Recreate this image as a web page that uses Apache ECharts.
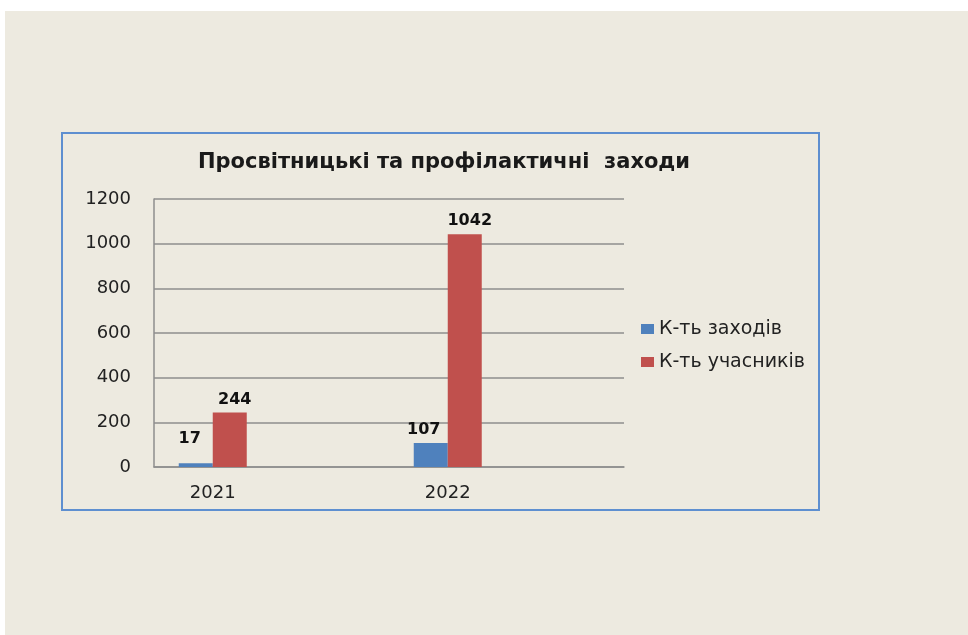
<!DOCTYPE html>
<html>
<head>
<meta charset="utf-8">
<script src="https://cdn.jsdelivr.net/npm/echarts@6/dist/echarts.min.js"></script>
<style>
  html, body { margin: 0; padding: 0; background: #ffffff; }
  #main { position: absolute; left: 5px; top: 11px; width: 963px; height: 624px; }
</style>
</head>
<body>
<div id="main"></div>
<script>
// категорії (порожні рядки як у вихідній таблиці)
const categories = ["2021", "", "2022", ""];
const seriesNames = ["К-ть заходів", "К-ть учасників"];
const eventsCount = [17, null, 107, null];
const participantsCount = [244, null, 1042, null];
const yTicks = [0, 200, 400, 600, 800, 1000, 1200];

const font = "DejaVu Sans";
const gridColor = "#8e8e8e";

const myChart = echarts.init(document.getElementById("main"));

// підпис "17" у оригіналі трохи вище
const blueData = eventsCount.map((v, i) => {
  if (i === 0) return { value: v, label: { offset: [-6, -11] } };
  return v;
});

myChart.setOption({
  backgroundColor: "#edeae0",
  animation: false,
  title: {
    text: "Просвітницькі та профілактичні  заходи",
    left: 434,
    top: 136,
    textAlign: "center",
    textStyle: {
      fontFamily: font,
      fontSize: 21,
      fontWeight: "bold",
      color: "#1a1a1a",
    },
  },
  legend: {
    data: seriesNames,
    orient: "vertical",
    left: 631,
    top: 303,
    itemWidth: 13,
    itemHeight: 10,
    itemGap: 13,
    icon: "rect",
    textStyle: {
      fontFamily: font,
      fontSize: 19,
      lineHeight: 20,
      color: "#222",
    },
  },
  grid: {
    left: 149,
    right: 344,
    top: 188,
    bottom: 168,
  },
  xAxis: {
    type: "category",
    data: categories,
    axisTick: { show: false },
    axisLine: { lineStyle: { color: gridColor, width: 1.5 } },
    axisLabel: {
      interval: 0,
      margin: 17,
      fontFamily: font,
      fontSize: 18,
      color: "#222",
    },
  },
  yAxis: {
    type: "value",
    min: yTicks[0],
    max: yTicks[yTicks.length - 1],
    interval: 200,
    axisTick: { show: false },
    axisLine: { show: true, lineStyle: { color: gridColor, width: 1.5 } },
    splitLine: { lineStyle: { color: gridColor, width: 1.5 } },
    axisLabel: {
      margin: 23,
      formatter: function (value) {
        return String(value);
      },
      fontFamily: font,
      fontSize: 18,
      color: "#222",
    },
  },
  series: [
    {
      name: seriesNames[0],
      type: "bar",
      barWidth: 34,
      barGap: "0%",
      data: blueData,
      itemStyle: { color: "#4f81bd" },
      label: {
        show: true,
        position: "top",
        distance: 5,
        offset: [-7, 0],
        fontFamily: font,
        fontSize: 16,
        fontWeight: "bold",
        color: "#111",
      },
    },
    {
      name: seriesNames[1],
      type: "bar",
      barWidth: 34,
      data: participantsCount,
      itemStyle: { color: "#c0504d" },
      label: {
        show: true,
        position: "top",
        distance: 5,
        offset: [5, 0],
        fontFamily: font,
        fontSize: 16,
        fontWeight: "bold",
        color: "#111",
      },
    },
  ],
  graphic: [
    {
      // синя рамка діаграми
      type: "rect",
      shape: { x: 57, y: 122, width: 757, height: 377 },
      style: { fill: null, stroke: "#5e8fd0", lineWidth: 2 },
      silent: true,
      z: -1,
    },
  ],
});
</script>
</body>
</html>
